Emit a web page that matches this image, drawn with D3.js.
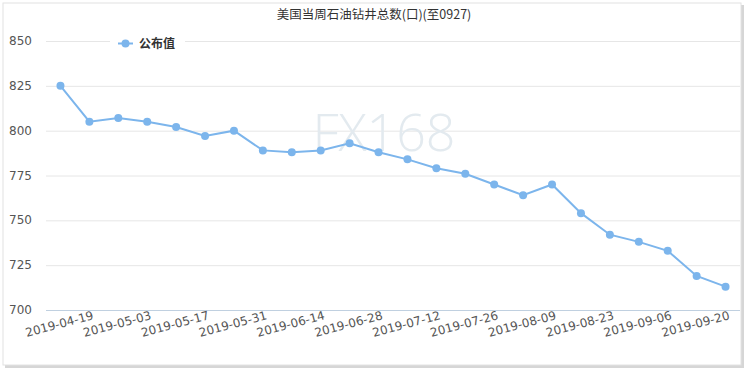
<!DOCTYPE html>
<meta charset="utf-8">
<script src="https://d3js.org/d3.v7.min.js"></script>
<style>
  body { margin: 0; background: #fff; }
  text { font-family: "Noto Sans CJK SC", "DejaVu Sans", sans-serif; }
</style>
<body>
<svg width="750" height="370"></svg>
<script>
    var dates  = ['2019-04-19','2019-04-26','2019-05-03','2019-05-10','2019-05-17','2019-05-24','2019-05-31',
                  '2019-06-07','2019-06-14','2019-06-21','2019-06-28','2019-07-05','2019-07-12','2019-07-19',
                  '2019-07-26','2019-08-02','2019-08-09','2019-08-16','2019-08-23','2019-08-30','2019-09-06',
                  '2019-09-13','2019-09-20','2019-09-27'];
    var values = [825, 805, 807, 805, 802, 797, 800, 789, 788, 789, 793, 788, 784, 779,
                  776, 770, 764, 770, 754, 742, 738, 733, 719, 713];
    var yTicks = [700, 725, 750, 775, 800, 825, 850];
    var title  = '美国当周石油钻井总数(口)(至0927)';
    var seriesName = '公布值';

    var svg = d3.select('svg');
    var plotL = 46, plotR = 740, plotT = 41, plotB = 310;
    var blue = '#7cb5ec';

    // frame with a soft shadow
    svg.append('rect').attr('x', 5).attr('y', 5).attr('width', 739).attr('height', 363).attr('fill', '#d6d6d6');
    svg.append('rect').attr('x', 3).attr('y', 3).attr('width', 738).attr('height', 362)
        .attr('fill', '#fff').attr('stroke', '#e2e2e2');

    var x = d3.scaleBand().domain(dates).range([plotL, plotR]);
    var y = d3.scaleLinear().domain([700, 850]).range([plotB, plotT]);

    // grid
    svg.append('g').selectAll('line').data(yTicks.filter(function(d){ return d !== 700; })).enter()
        .append('line')
        .attr('x1', plotL).attr('x2', plotR)
        .attr('y1', function(d){ return y(d) + 0.5; }).attr('y2', function(d){ return y(d) + 0.5; })
        .attr('stroke', '#e6e6e6');

    // watermark
    svg.append('text').attr('x', 384).attr('y', 151).attr('text-anchor', 'middle')
        .style('font-family', '"Open Sans", "DejaVu Sans", sans-serif').attr('font-weight', 300)
        .attr('font-size', 52).attr('fill', '#e3eaef').text('FX168');

    // y labels
    svg.append('g').selectAll('text').data(yTicks).enter().append('text')
        .attr('x', 32).attr('y', function(d){ return y(d) + 4; })
        .attr('text-anchor', 'end').attr('font-size', 12).attr('fill', '#555')
        .style('font-family', '"DejaVu Sans", sans-serif')
        .text(function(d){ return d; });

    // x axis line
    svg.append('line').attr('x1', plotL).attr('x2', plotR).attr('y1', plotB + 0.5).attr('y2', plotB + 0.5)
        .attr('stroke', '#c0d0e0');

    // x labels every two weeks
    svg.append('g').selectAll('text').data(dates.filter(function(d, i){ return i % 2 === 0; })).enter()
        .append('text')
        .attr('transform', function(d){ return 'translate(' + (x(d) + x.bandwidth() / 2) + ',' + 328 + ') rotate(-15)'; })
        .attr('text-anchor', 'middle').attr('font-size', 12).attr('fill', '#555')
        .style('font-family', '"DejaVu Sans", sans-serif')
        .text(function(d){ return d; });

    // line + markers
    var cx = function(d, i){ return x(dates[i]) + x.bandwidth() / 2; };
    var line = d3.line().x(cx).y(function(d){ return y(d); });
    svg.append('path').datum(values).attr('d', line)
        .attr('fill', 'none').attr('stroke', blue).attr('stroke-width', 2);
    svg.append('g').selectAll('circle').data(values).enter().append('circle')
        .attr('cx', cx).attr('cy', function(d){ return y(d); }).attr('r', 4).attr('fill', blue);

    // legend
    var lg = svg.append('g');
    lg.append('rect').attr('x', 110).attr('y', 33).attr('width', 75).attr('height', 20).attr('fill', '#fff');
    lg.append('line').attr('x1', 118).attr('x2', 133).attr('y1', 43.5).attr('y2', 43.5)
        .attr('stroke', blue).attr('stroke-width', 2);
    lg.append('circle').attr('cx', 125.5).attr('cy', 43.5).attr('r', 4).attr('fill', blue);
    lg.append('text').attr('x', 139).attr('y', 48).attr('font-size', 12).attr('font-weight', 'bold')
        .attr('fill', '#333').text(seriesName);

    // title
    svg.append('text').attr('x', 374).attr('y', 19).attr('text-anchor', 'middle')
        .attr('font-size', 12.5).attr('fill', '#333').text(title);
</script>
</body>
